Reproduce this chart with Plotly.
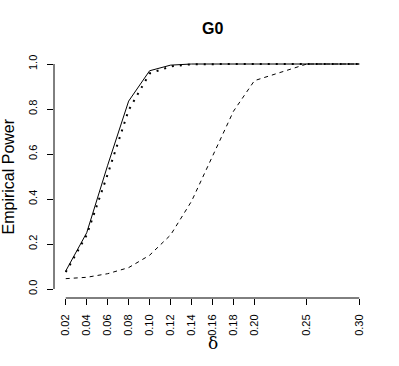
import plotly.graph_objects as go

delta = [0.02, 0.04, 0.06, 0.08, 0.10, 0.12, 0.14, 0.16, 0.18, 0.20, 0.25, 0.30]
tick_labels = ["0.02", "0.04", "0.06", "0.08", "0.10", "0.12", "0.14", "0.16", "0.18", "0.20", "0.25", "0.30"]
solid = [0.08, 0.25, 0.55, 0.835, 0.97, 0.995, 1.0, 1.0, 1.0, 1.0, 1.0, 1.0]
dotted = [0.075, 0.24, 0.51, 0.795, 0.958, 0.989, 0.999, 1.0, 1.0, 1.0, 1.0, 1.0]
dashed = [0.046, 0.052, 0.068, 0.095, 0.15, 0.24, 0.39, 0.59, 0.79, 0.926, 1.0, 1.0]
y_ticks = [0.0, 0.2, 0.4, 0.6, 0.8, 1.0]
y_tick_labels = ["0.0", "0.2", "0.4", "0.6", "0.8", "1.0"]

FONT = "Liberation Sans, Arial, sans-serif"

fig = go.Figure()
fig.add_trace(go.Scatter(x=delta, y=solid, mode="lines",
                         line=dict(color="black", width=1), showlegend=False))
fig.add_trace(go.Scatter(x=delta, y=dotted, mode="lines",
                         line=dict(color="black", width=2, dash="2px,6px"), showlegend=False))
fig.add_trace(go.Scatter(x=delta, y=dashed, mode="lines",
                         line=dict(color="black", width=1, dash="4px,4px"), showlegend=False))

xr = [delta[0] - 0.04 * (delta[-1] - delta[0]), delta[-1] + 0.04 * (delta[-1] - delta[0])]
yr = [-0.04, 1.04]

fig.update_layout(
    width=399, height=366,
    margin=dict(l=54, r=28, t=55, b=67.5),
    paper_bgcolor="white", plot_bgcolor="white",
    font=dict(family=FONT, color="black", size=11),
    xaxis=dict(range=xr, tickvals=delta, ticktext=tick_labels, tickangle=-90,
               ticks="outside", ticklen=6, tickcolor="black", tickwidth=1,
               showline=False, showgrid=False, zeroline=False,
               tickfont=dict(size=11), ticklabelstandoff=5),
    yaxis=dict(range=yr, tickvals=y_ticks, ticktext=y_tick_labels, tickangle=-90,
               ticks="outside", ticklen=6, tickcolor="black", tickwidth=1,
               showline=False, showgrid=False, zeroline=False,
               tickfont=dict(size=11), ticklabelstandoff=6),
    shapes=[
        dict(type="line", xref="x", yref="paper", x0=delta[0], x1=delta[-1], y0=0, y1=0,
             line=dict(color="black", width=1)),
        dict(type="line", xref="paper", yref="y", x0=0, x1=0, y0=y_ticks[0], y1=y_ticks[-1],
             line=dict(color="black", width=1)),
    ],
    annotations=[
        dict(text="<b>G0</b>", xref="paper", yref="paper", x=0.5, y=1, yshift=27,
             showarrow=False, font=dict(size=16, family=FONT), yanchor="middle"),
        dict(text="Empirical Power", xref="paper", yref="paper", x=0, y=0.5,
             xshift=-46, textangle=-90, showarrow=False, font=dict(size=16, family=FONT),
             xanchor="center", yanchor="middle"),
        dict(text="δ", xref="paper", yref="paper", x=0.5, y=0, yshift=-45,
             showarrow=False, font=dict(size=17, family="DejaVu Serif, serif"),
             yanchor="middle"),
    ],
)

fig.write_html("out.html", config={"displayModeBar": False},
               post_script="document.body.style.margin='0';document.body.style.padding='0';")
